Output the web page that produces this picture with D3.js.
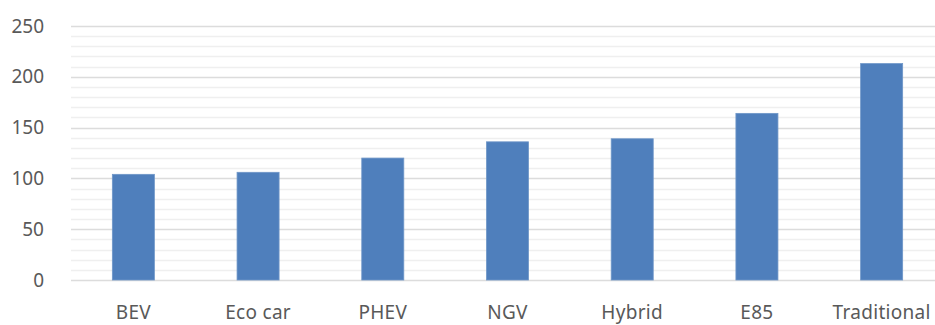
<!DOCTYPE html>
<html>
<head>
<meta charset="utf-8">
<script src="https://cdn.jsdelivr.net/npm/d3@7"></script>
<style>
  html, body { margin: 0; padding: 0; background: #fff; }
  svg { display: block; }
  text { font-family: "Noto Sans", "Open Sans", sans-serif; fill: #595959; }
</style>
</head>
<body>
<svg id="chart" width="935" height="325"></svg>
<script>
// Vehicle types and their values
const categories = ["BEV", "Eco car", "PHEV", "NGV", "Hybrid", "E85", "Traditional"];
const values = [104, 106, 120, 136, 139, 164, 213];
const majorTicks = [0, 50, 100, 150, 200, 250];
const minorTicks = d3.range(0, 251, 10);

const svg = d3.select("#chart");
const plot = { left: 71, right: 944, top: 26, bottom: 280 };

const x = d3.scaleBand()
  .domain(categories)
  .range([plot.left, plot.right])
  .paddingInner(0.663)
  .paddingOuter(0.3315);

const y = d3.scaleLinear()
  .domain([0, 250])
  .range([plot.bottom, plot.top]);

// Minor gridlines
svg.append("g")
  .selectAll("line")
  .data(minorTicks.filter(d => d % 50 !== 0))
  .join("line")
  .attr("x1", plot.left).attr("x2", plot.right)
  .attr("y1", d => Math.round(y(d)) + 0.5)
  .attr("y2", d => Math.round(y(d)) + 0.5)
  .attr("stroke", "#efefef")
  .attr("stroke-width", 1.5);

// Major gridlines
svg.append("g")
  .selectAll("line")
  .data(majorTicks)
  .join("line")
  .attr("x1", plot.left).attr("x2", plot.right)
  .attr("y1", d => Math.round(y(d)) + 0.5)
  .attr("y2", d => Math.round(y(d)) + 0.5)
  .attr("stroke", "#dcdcdc")
  .attr("stroke-width", 1.6);

// Y axis labels
const yAxis = d3.axisLeft(y).tickValues(majorTicks).tickSize(0).tickPadding(0);
const gy = svg.append("g")
  .attr("transform", "translate(44,0)")
  .call(yAxis);
gy.select(".domain").remove();
gy.selectAll("text")
  .attr("font-size", 19)
  .attr("fill", "#595959")
  .style("font-family", "'Noto Sans', sans-serif");

// Bars
svg.append("g")
  .selectAll("rect")
  .data(categories)
  .join("rect")
  .attr("x", d => x(d))
  .attr("width", x.bandwidth())
  .attr("y", (d, i) => y(values[i]))
  .attr("height", (d, i) => y(0) - y(values[i]))
  .attr("fill", "#4f7fbc")
  .attr("stroke", "#6f97c8")
  .attr("stroke-width", 0.8);

// Category labels
const xAxis = d3.axisBottom(x).tickSize(0).tickPadding(0);
const gx = svg.append("g")
  .attr("transform", `translate(0,${plot.bottom})`)
  .call(xAxis);
gx.select(".domain").remove();
gx.selectAll("text")
  .attr("dy", null)
  .attr("y", 39)
  .attr("font-size", 19)
  .attr("fill", "#595959")
  .style("font-family", "'Noto Sans', sans-serif")
  .style("letter-spacing", "0.3px");
</script>
</body>
</html>
